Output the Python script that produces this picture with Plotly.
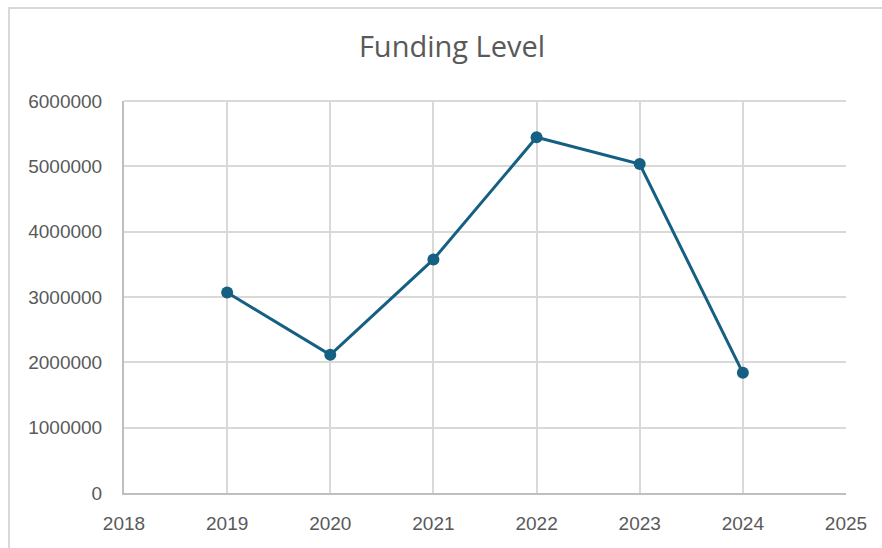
import plotly.graph_objects as go

# ── Data ──────────────────────────────────────────────────────────────────────
years = [2019, 2020, 2021, 2022, 2023, 2024]
funding = [3070000, 2115000, 3575000, 5445000, 5035000, 1840000]

x_ticks = [2018, 2019, 2020, 2021, 2022, 2023, 2024, 2025]
y_ticks = [0, 1000000, 2000000, 3000000, 4000000, 5000000, 6000000]

LINE_COLOR = "#156082"
TEXT_COLOR = "#595959"
GRID_COLOR = "#D9D9D9"

# ── Chart ─────────────────────────────────────────────────────────────────────
fig = go.Figure()
fig.add_trace(go.Scatter(
    x=years, y=funding,
    mode="lines+markers",
    line=dict(color=LINE_COLOR, width=3),
    marker=dict(size=12, color=LINE_COLOR),
    showlegend=False,
))

fig.update_layout(
    width=882, height=548,
    paper_bgcolor="white",
    plot_bgcolor="white",
    font=dict(family="Liberation Sans, Arial, sans-serif", color=TEXT_COLOR, size=19),
    margin=dict(l=124, r=36, t=101, b=55),
    title=dict(
        text="Funding Level",
        x=452 / 882, xanchor="center",
        y=1 - 47 / 548, yanchor="middle",
        font=dict(family="Open Sans, sans-serif", size=29, color=TEXT_COLOR),
    ),
    xaxis=dict(
        range=[2018, 2025],
        tickvals=x_ticks,
        ticktext=[str(v) for v in x_ticks],
        showgrid=True, gridcolor=GRID_COLOR, gridwidth=2,
        showline=True, linecolor="#BFBFBF", linewidth=2,
        zeroline=False, ticks="", ticklabelstandoff=12,
        tickfont=dict(size=19, color=TEXT_COLOR),
    ),
    yaxis=dict(
        range=[0, 6000000],
        tickvals=y_ticks,
        ticktext=[str(v) for v in y_ticks],
        showgrid=True, gridcolor=GRID_COLOR, gridwidth=2,
        showline=True, linecolor="#BFBFBF", linewidth=2,
        zeroline=False, ticks="", ticklabelstandoff=16,
        tickfont=dict(size=19, color=TEXT_COLOR),
    ),
)

# top edge of the plot area
fig.add_shape(type="line", xref="paper", yref="paper",
              x0=0, x1=1, y0=1, y1=1,
              line=dict(color=GRID_COLOR, width=2), layer="below")

# outer chart-area border (partly clipped by the window)
fig.add_shape(type="rect", xref="paper", yref="paper",
              x0=(9 - 124) / 722, x1=(890 - 124) / 722,
              y0=(493 - 560) / 392, y1=(493 - 8) / 392,
              line=dict(color=GRID_COLOR, width=2),
              fillcolor="rgba(0,0,0,0)")

fig.write_html(
    "out.html",
    config={"displayModeBar": False},
    post_script="document.body.style.margin='0';document.body.style.overflow='hidden';",
)
